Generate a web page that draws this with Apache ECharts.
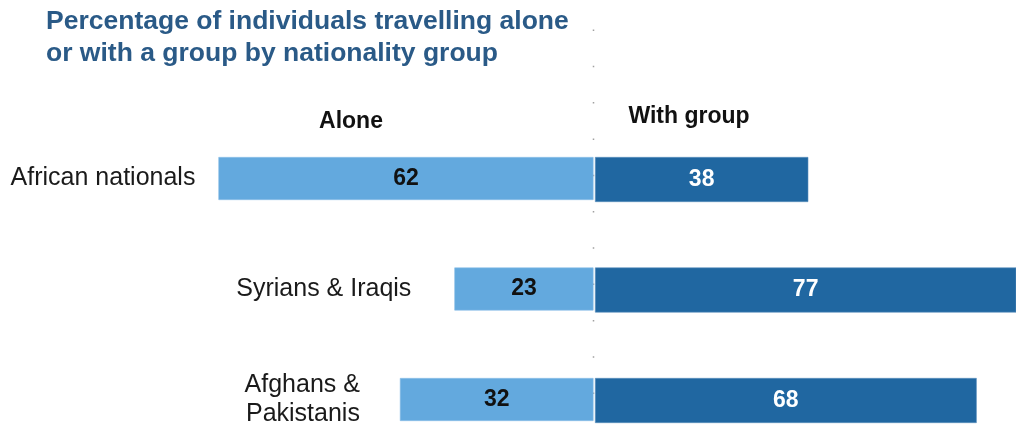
<!DOCTYPE html>
<html>
<head>
<meta charset="utf-8">
<script src="https://cdn.jsdelivr.net/npm/echarts@6/dist/echarts.min.js"></script>
<style>
  html, body { margin: 0; padding: 0; background: #fff; }
  #chart { width: 1016px; height: 424px; }
</style>
</head>
<body>
<div id="chart"></div>
<script>
// values
const categories = ['African nationals', 'Syrians & Iraqis', 'Afghans &\nPakistanis'];
const alone = [62, 23, 32];
const withGroup = [38, 77, 68];
const headers = ['Alone', 'With group'];
const chartTitle = 'Percentage of individuals travelling alone\nor with a group by nationality group';

// gap between each category name and the start of its bar
const nameGap = [23, 43, 40];

const FONT = '"Liberation Sans", Arial, Helvetica, sans-serif';
const LIGHT = '#63a9de';
const DARK = '#2067a1';

const chart = echarts.init(document.getElementById('chart'));

const options = {
  animation: false,
  textStyle: { fontFamily: FONT },
  title: {
    text: chartTitle,
    left: 46,
    top: 6,
    padding: 0,
    textStyle: { fontFamily: FONT, fontSize: 26.5, fontWeight: 'bold', lineHeight: 32, color: '#2a5a87' }
  },
  // rows sit on the ticks (boundaryGap false), first row centre = grid top
  grid: [
    { left: 49, right: 422.5, top: 178.5, height: 221 },
    { left: 595, right: 0, top: 179.5, height: 221 }
  ],
  xAxis: [
    { gridIndex: 0, type: 'value', min: 0, max: 90, inverse: true, show: false },
    { gridIndex: 1, type: 'value', min: 0, max: 75, show: false }
  ],
  yAxis: [
    { gridIndex: 0, type: 'category', data: categories, inverse: true, boundaryGap: false, show: false },
    { gridIndex: 1, type: 'category', data: categories, inverse: true, boundaryGap: false, show: false }
  ],
  graphic: [
    {
      type: 'line', z: -1, silent: true,
      shape: { x1: 593.5, y1: 29.5, x2: 593.5, y2: 424 },
      style: { stroke: '#a0a0a0', lineWidth: 1.5, lineDash: [1.5, 34.8] }
    },
    {
      type: 'text', x: 351, y: 122,
      style: { text: headers[0], font: 'bold 23px ' + FONT, fill: '#111', textAlign: 'center', textVerticalAlign: 'middle' }
    },
    {
      type: 'text', x: 689, y: 117,
      style: { text: headers[1], font: 'bold 23px ' + FONT, fill: '#111', textAlign: 'center', textVerticalAlign: 'middle' }
    }
  ],
  series: [
    {
      name: headers[0],
      type: 'bar',
      xAxisIndex: 0, yAxisIndex: 0,
      data: alone,
      barWidth: 43,
      itemStyle: { color: LIGHT, borderColor: '#8cc0e8', borderWidth: 0.6 },
      label: {
        show: true, position: 'inside',
        fontFamily: FONT, fontSize: 23, fontWeight: 'bold', color: '#111'
      }
    },
    {
      // invisible twin of the "Alone" bars, only to carry the category names
      name: 'names',
      type: 'bar',
      xAxisIndex: 0, yAxisIndex: 0,
      data: alone.map((v, i) => ({ value: v, label: { distance: nameGap[i] } })),
      barWidth: 43,
      barGap: '-100%',
      itemStyle: { color: 'rgba(0,0,0,0)' },
      silent: true,
      label: {
        show: true, position: 'left',
        formatter: p => categories[p.dataIndex],
        fontFamily: FONT, fontSize: 25, lineHeight: 29, color: '#1a1a1a'
      }
    },
    {
      name: headers[1],
      type: 'bar',
      xAxisIndex: 1, yAxisIndex: 1,
      data: withGroup,
      barWidth: 45,
      clip: true,
      itemStyle: { color: DARK, borderColor: '#5b8fbd', borderWidth: 0.6 },
      label: {
        show: true, position: 'inside',
        fontFamily: FONT, fontSize: 23, fontWeight: 'bold', color: '#fff'
      }
    }
  ]
};

chart.setOption(options);
</script>
</body>
</html>
